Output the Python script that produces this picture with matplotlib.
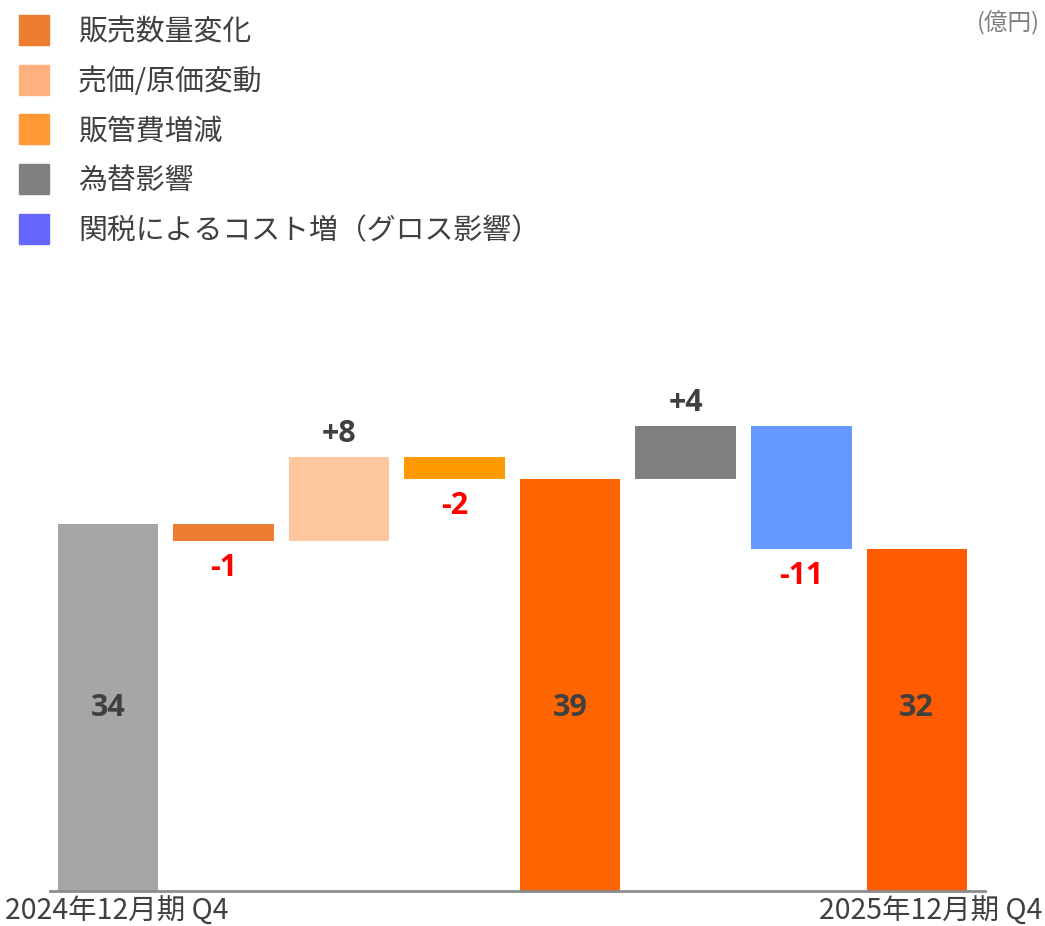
import matplotlib
matplotlib.use('Agg')
import matplotlib.pyplot as plt
from matplotlib.patches import Rectangle

plt.rcParams['font.family'] = ['Noto Sans CJK JP', 'DejaVu Sans']

# waterfall data (億円)
start_val = 34.3
deltas = [-1.6, 7.85, -2.05, 4.95, -11.5]
mid_total = 38.5
end_total = 31.95

bar_labels = ['34', '-1', '+8', '-2', '39', '+4', '-11', '32']
bar_colors = ['#A6A6A6', '#ED7D31', '#FEC7A0', '#FF9900', '#FF6600',
              '#808080', '#6699FF', '#FF5B00']
x_labels = ['2024年12月期 Q4', '2025年12月期 Q4']

legend_names = ['販売数量変化', '売価/原価変動', '販管費増減', '為替影響',
                '関税によるコスト増（グロス影響）']
legend_colors = ['#ED7D31', '#FFB07F', '#FF9933', '#808080', '#6666FF']

dark = '#404040'
num_font = ['Open Sans', 'DejaVu Sans']

fig = plt.figure(figsize=(10.45, 9.26), dpi=100)
ax = fig.add_axes([50 / 1045, 1 - 891 / 926, 935 / 1045, 535 / 926])

# build bottoms/heights
bottoms, heights = [0], [start_val]
level = start_val
for d in deltas[:3]:
    bottoms.append(min(level, level + d))
    heights.append(abs(d))
    level += d
bottoms.append(0)
heights.append(mid_total)
level = mid_total
for d in deltas[3:]:
    bottoms.append(min(level, level + d))
    heights.append(abs(d))
    level += d
bottoms.append(0)
heights.append(end_total)

xs = list(range(len(heights)))
ax.bar(xs, heights, bottom=bottoms, width=0.87, color=bar_colors, zorder=2)

# labels
total_idx = [0, 4, 7]
for i in xs:
    lab = bar_labels[i]
    if i in total_idx:
        ax.text(i, 17.1, lab, ha='center', va='center', fontsize=22,
                fontweight='bold', color=dark, family=num_font)
    elif lab.startswith('-'):
        ax.text(i, bottoms[i] - 1.1, lab, ha='center', va='top', fontsize=22,
                fontweight='bold', color='#FF0000', family=num_font)
    else:
        ax.text(i, bottoms[i] + heights[i] + 0.8, lab, ha='center', va='bottom',
                fontsize=22, fontweight='bold', color=dark, family=num_font)

ax.set_xlim(-0.5, 7.59)
ax.set_ylim(0, 50)
for s in ['top', 'right', 'left']:
    ax.spines[s].set_visible(False)
ax.spines['bottom'].set_color('#8C8C8C')
ax.spines['bottom'].set_linewidth(2)
ax.set_yticks([])
ax.set_xticks([])

fig.text(5 / 1045, 1 - 912 / 926, x_labels[0], ha='left', va='center',
         fontsize=20.5, color=dark)
fig.text(1042 / 1045, 1 - 912 / 926, x_labels[1], ha='right', va='center',
         fontsize=20.5, color=dark)

fig.text(1040 / 1045, 1 - 23 / 926, '(億円)', ha='right', va='center',
         fontsize=17, color='#808080')

# legend
for k, (name, col) in enumerate(zip(legend_names, legend_colors)):
    yc = 30 + k * 49.7
    fig.patches.append(Rectangle((19 / 1045, 1 - (yc + 15) / 926), 30 / 1045, 30 / 926,
                                 transform=fig.transFigure, color=col))
    fig.text(78 / 1045, 1 - (yc + 2) / 926, name, ha='left', va='center',
             fontsize=20.8, color=dark)

fig.savefig('out.png', dpi=100)
